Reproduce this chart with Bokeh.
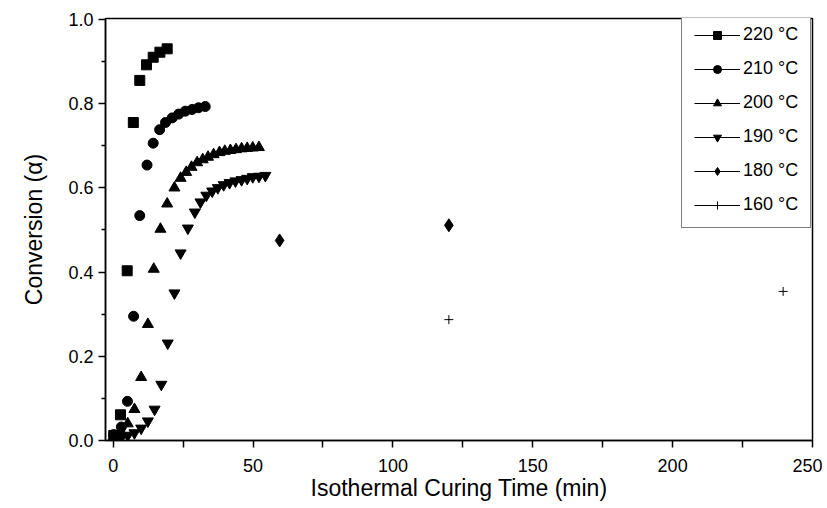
from bokeh.plotting import figure
from bokeh.models import Range1d, Legend, LegendItem, FixedTicker, CustomJSTickFormatter
from bokeh.embed import file_html
from bokeh.resources import INLINE

FONT = "Liberation Sans"

t220 = [0.2, 2.6, 5.0, 7.2, 9.5, 11.9, 14.3, 16.7, 19.3]
a220 = [0.012, 0.061, 0.403, 0.755, 0.855, 0.892, 0.910, 0.922, 0.930]

t210 = [0.2, 2.9, 5.1, 7.3, 9.5, 12.1, 14.3, 16.6, 18.7, 21.1, 23.4, 25.8, 28.2, 30.5, 32.9]
a210 = [0.014, 0.032, 0.093, 0.295, 0.534, 0.654, 0.706, 0.738, 0.755, 0.766, 0.775, 0.782, 0.786, 0.790, 0.793]

t200 = [0.3, 2.9, 5.2, 7.6, 10.0, 12.4, 14.5, 16.9, 19.3, 21.9, 24.1, 26.1, 28.0, 30.0, 32.0,
        33.9, 35.9, 38.0, 39.9, 41.9, 43.9, 45.9, 47.9, 49.9, 52.1]
a200 = [0.007, 0.020, 0.040, 0.074, 0.150, 0.276, 0.407, 0.502, 0.562, 0.600, 0.623, 0.637, 0.649, 0.660, 0.667,
        0.673, 0.679, 0.684, 0.687, 0.689, 0.691, 0.693, 0.694, 0.695, 0.696]

t190 = [0.3, 2.9, 5.2, 7.6, 10.0, 12.4, 14.8, 17.2, 19.5, 21.9, 24.1, 26.7, 29.2, 31.2, 33.3,
        35.4, 37.4, 39.5, 41.6, 43.7, 45.9, 47.9, 49.9, 52.1, 54.4]
a190 = [0.005, 0.007, 0.012, 0.018, 0.029, 0.046, 0.074, 0.133, 0.231, 0.350, 0.445, 0.504, 0.542, 0.566, 0.582,
        0.592, 0.600, 0.607, 0.612, 0.616, 0.619, 0.622, 0.626, 0.627, 0.629]

t180 = [0.0, 59.5, 120.0]
a180 = [0.005, 0.475, 0.511]

t160 = [120.0, 239.5]
a160 = [0.287, 0.354]

labels = ["220 °C", "210 °C", "200 °C", "190 °C", "180 °C", "160 °C"]
x_ticks = [0, 50, 100, 150, 200, 250]
x_minor = [25, 75, 125, 175, 225]
y_ticks = [0.0, 0.2, 0.4, 0.6, 0.8, 1.0]
y_minor = [0.1, 0.3, 0.5, 0.7, 0.9]

p = figure(width=822, height=506, output_backend="svg", toolbar_location=None,
           x_range=Range1d(-2.75, 250), y_range=Range1d(0.0, 1.002),
           min_border_left=105, min_border_right=10, min_border_top=18, min_border_bottom=66)
p.grid.visible = False
p.outline_line_color = "black"
p.outline_line_width = 1.5
p.background_fill_color = "white"
p.border_fill_color = "white"

series = [
    (t220, a220, "square", 10),
    (t210, a210, "circle", 10),
    (t200, a200, "triangle", 11),
    (t190, a190, "inverted_triangle", 11),
    (t180, a180, "diamond", 13),
    (t160, a160, "cross", 9),
]

items = []
for (t, a, mk, sz), lab in zip(series, labels):
    # single-point line: draws nothing on the plot, only its legend stroke
    stroke = p.line(x=t[:1], y=a[:1], line_color="black", line_width=1)
    if mk == "cross":
        r = p.scatter(t, a, marker=mk, size=sz, line_color="black", line_width=1)
    else:
        r = p.scatter(t, a, marker=mk, size=sz, fill_color="black", line_color="black")
    items.append(LegendItem(label=lab, renderers=[stroke, r]))

legend = Legend(items=items, location=(576, 212))
legend.border_line_color = "black"
legend.border_line_width = 1
legend.background_fill_alpha = 1
legend.label_text_font = FONT
legend.label_text_font_size = "18px"
legend.label_text_color = "black"
legend.glyph_width = 46
legend.glyph_height = 20
legend.label_height = 20
legend.label_standoff = 3
legend.spacing = 13
legend.padding = 12
legend.margin = 0
p.add_layout(legend, "center")

for ax in (p.xaxis[0], p.yaxis[0]):
    ax.axis_line_color = "black"
    ax.axis_line_width = 1.5
    ax.major_tick_line_color = "black"
    ax.minor_tick_line_color = "black"
    ax.major_tick_line_width = 1.5
    ax.minor_tick_line_width = 1.5
    ax.major_tick_in = 0
    ax.minor_tick_in = 0
    ax.major_label_text_font = FONT
    ax.major_label_text_font_size = "18px"
    ax.major_label_text_color = "black"
    ax.axis_label_text_font = FONT
    ax.axis_label_text_font_style = "normal"
    ax.axis_label_text_color = "black"
    ax.axis_label_text_font_size = "23px"

p.xaxis.ticker = FixedTicker(ticks=x_ticks, minor_ticks=x_minor)
p.yaxis.ticker = FixedTicker(ticks=y_ticks, minor_ticks=y_minor)
p.xaxis.major_tick_out = 7
p.xaxis.minor_tick_out = 7
p.yaxis.major_tick_out = 7
p.yaxis.minor_tick_out = 4
p.xaxis.major_label_standoff = 11
p.yaxis.major_label_standoff = 5
p.xaxis.axis_label = "Isothermal Curing Time (min)"
p.yaxis.axis_label = "Conversion (α)"
p.xaxis.axis_label_standoff = 0
p.yaxis.axis_label_standoff = 18
p.yaxis.formatter = CustomJSTickFormatter(code="return tick.toFixed(1);")

open("out.html", "w").write(file_html(p, INLINE))
